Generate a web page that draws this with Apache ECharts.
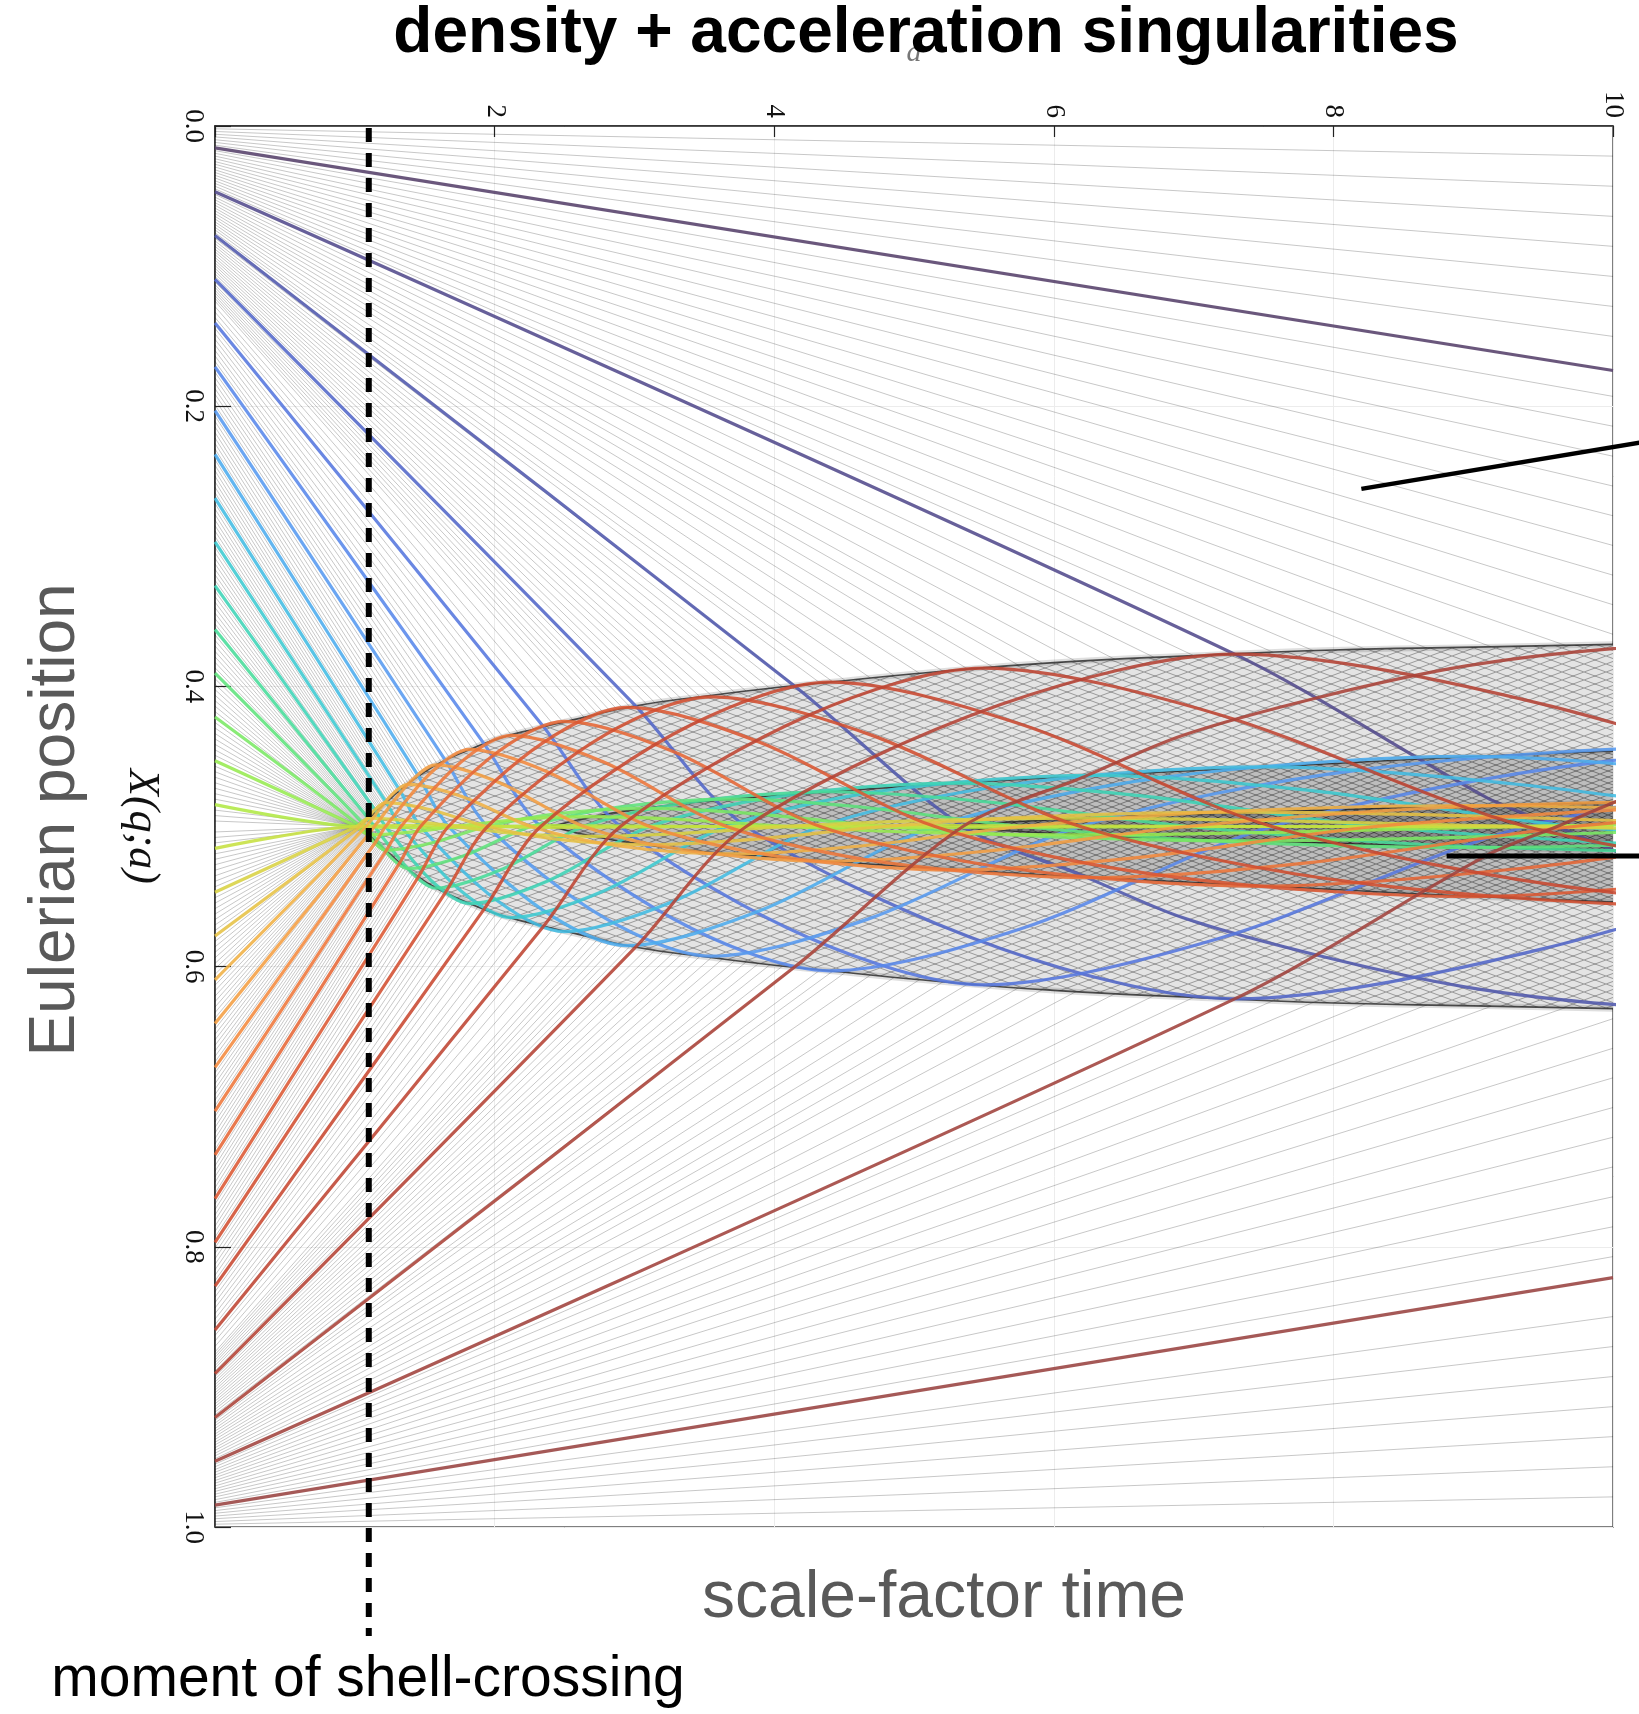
<!DOCTYPE html>
<html>
<head>
<meta charset="utf-8">
<script src="https://cdn.jsdelivr.net/npm/echarts@6.0.0/dist/echarts.min.js"></script>
<style>
  html, body { margin: 0; padding: 0; background: #fff; }
  #chart { width: 1639px; height: 1714px; }
</style>
</head>
<body>
<div id="chart"></div>
<script>
// moment of shell-crossing (scale-factor time)
const shellCrossing = 1.1;

// gray particle lines before they enter the multistream region: [X at a=0, a at end, X at end]
const grayTop = [
  [0.0020,10,0.0215],[0.0039,10,0.0430],[0.0059,10,0.0645],[0.0078,10,0.0859],[0.0098,10,0.1074],
  [0.0117,10,0.1288],[0.0137,10,0.1502],[0.0176,10,0.1930],[0.0195,10,0.2143],[0.0215,10,0.2357],
  [0.0234,10,0.2570],[0.0254,10,0.2782],[0.0273,10,0.2994],[0.0293,10,0.3206],[0.0313,10,0.3417],
  [0.0332,10,0.3628],[0.0352,9.66,0.3707],[0.0371,9.13,0.3717],[0.0391,8.67,0.3727],[0.0410,8.23,0.3735],
  [0.0430,7.86,0.3746],[0.0449,7.57,0.3757],[0.0488,7.00,0.3780],[0.0508,6.72,0.3794],[0.0527,6.44,0.3808],
  [0.0547,6.16,0.3822],[0.0566,5.92,0.3836],[0.0586,5.75,0.3850],[0.0605,5.57,0.3865],[0.0625,5.39,0.3879],
  [0.0645,5.21,0.3893],[0.0664,5.04,0.3907],[0.0684,4.86,0.3924],[0.0703,4.69,0.3941],[0.0723,4.51,0.3959],
  [0.0742,4.42,0.3968],[0.0762,4.33,0.3977],[0.0801,4.15,0.3995],[0.0820,4.06,0.4004],[0.0840,3.97,0.4014],
  [0.0859,3.89,0.4024],[0.0879,3.80,0.4034],[0.0898,3.72,0.4044],[0.0918,3.63,0.4054],[0.0938,3.55,0.4064],
  [0.0957,3.47,0.4074],[0.0977,3.41,0.4083],[0.0996,3.34,0.4092],[0.1016,3.28,0.4101],[0.1035,3.21,0.4110],
  [0.1055,3.15,0.4119],[0.1074,3.09,0.4128],[0.1113,2.97,0.4147],[0.1133,2.92,0.4158],[0.1152,2.88,0.4168],
  [0.1172,2.83,0.4179],[0.1191,2.78,0.4189],[0.1211,2.74,0.4199],[0.1230,2.69,0.4210],
  [0.1250,2.64,0.4220],[0.1289,2.56,0.4239],[0.1328,2.49,0.4255],[0.1367,2.42,0.4272],[0.1445,2.28,0.4304],
  [0.1484,2.23,0.4319],[0.1523,2.17,0.4334],[0.1563,2.12,0.4348],[0.1602,2.06,0.4363],[0.1641,2.01,0.4378],
  [0.1680,1.97,0.4394],[0.1758,1.88,0.4426],[0.1797,1.84,0.4442],[0.1836,1.80,0.4458],[0.1875,1.77,0.4473],
  [0.1914,1.74,0.4486],[0.1953,1.71,0.4500],[0.1992,1.68,0.4514],[0.2070,1.62,0.4542],[0.2109,1.59,0.4556],
  [0.2148,1.565,0.4571],[0.2188,1.54,0.4585],[0.2227,1.52,0.4600],[0.2266,1.494,0.4614],[0.2305,1.475,0.4628],
  [0.2383,1.436,0.4655],[0.2422,1.417,0.4668],[0.2461,1.398,0.4682],[0.2500,1.383,0.4694],[0.2539,1.368,0.4706],
  [0.2578,1.353,0.4718],[0.2617,1.338,0.4730],[0.2695,1.307,0.4754],[0.2734,1.294,0.4766],[0.2773,1.281,0.4777],
  [0.2813,1.269,0.4788],[0.2852,1.257,0.4799],[0.2891,1.246,0.4809],[0.2930,1.235,0.4818],[0.3008,1.214,0.4837],
  [0.3047,1.204,0.4847],[0.3086,1.194,0.4855],[0.3125,1.186,0.4863],[0.3164,1.177,0.4870],[0.3203,1.169,0.4878],
  [0.3242,1.160,0.4886],[0.3320,1.145,0.4900],[0.3359,1.137,0.4906],[0.3398,1.130,0.4913],[0.3438,1.123,0.4919],
  [0.3477,1.116,0.4926],[0.3516,1.109,0.4932],[0.3555,1.102,0.4938],[0.3633,1.092,0.4946],[0.3672,1.087,0.4950],
  [0.3711,1.083,0.4954],[0.3750,1.078,0.4957],[0.3789,1.074,0.4961],[0.3828,1.069,0.4965],[0.3867,1.064,0.4968],
  [0.3945,1.055,0.4976],[0.3984,1.051,0.4980],[0.4023,1.047,0.4982],[0.4063,1.043,0.4985],[0.4102,1.040,0.4987],
  [0.4141,1.036,0.4989],[0.4180,1.033,0.4990],[0.4258,1.027,0.4992],[0.4297,1.024,0.4993],[0.4336,1.021,0.4995],
  [0.4375,1.019,0.4995],[0.4414,1.016,0.4996],[0.4453,1.014,0.4997],[0.4492,1.012,0.4997],[0.4570,1.009,0.4998],
  [0.4609,1.008,0.4998],[0.4648,1.007,0.4999],[0.4688,1.006,0.4999],[0.4727,1.005,0.4999],[0.4766,1.004,0.5],
  [0.4805,1.003,0.5],[0.4883,1.002,0.5],[0.4922,1.001,0.5],[0.4961,1.0,0.5]
];

const grayBottom = [
  [0.9980,10,0.9785],[0.9961,10,0.9570],[0.9941,10,0.9355],[0.9922,10,0.9141],[0.9902,10,0.8926],
  [0.9883,10,0.8712],[0.9863,10,0.8498],[0.9824,10,0.8070],[0.9805,10,0.7857],[0.9785,10,0.7643],
  [0.9766,10,0.7430],[0.9746,10,0.7218],[0.9727,10,0.7006],[0.9707,10,0.6794],[0.9687,10,0.6583],
  [0.9668,10,0.6372],[0.9648,9.66,0.6293],[0.9629,9.13,0.6283],[0.9609,8.67,0.6273],[0.9590,8.23,0.6265],
  [0.9570,7.86,0.6254],[0.9551,7.57,0.6243],[0.9512,7.00,0.6220],[0.9492,6.72,0.6206],[0.9473,6.44,0.6192],
  [0.9453,6.16,0.6178],[0.9434,5.92,0.6164],[0.9414,5.75,0.6150],[0.9395,5.57,0.6135],[0.9375,5.39,0.6121],
  [0.9355,5.21,0.6107],[0.9336,5.04,0.6093],[0.9316,4.86,0.6076],[0.9297,4.69,0.6059],[0.9277,4.51,0.6041],
  [0.9258,4.42,0.6032],[0.9238,4.33,0.6023],[0.9199,4.15,0.6005],[0.9180,4.06,0.5996],[0.9160,3.97,0.5986],
  [0.9141,3.89,0.5976],[0.9121,3.80,0.5966],[0.9102,3.72,0.5956],[0.9082,3.63,0.5946],[0.9062,3.55,0.5936],
  [0.9043,3.47,0.5926],[0.9023,3.41,0.5917],[0.9004,3.34,0.5908],[0.8984,3.28,0.5899],[0.8965,3.21,0.5890],
  [0.8945,3.15,0.5881],[0.8926,3.09,0.5872],[0.8887,2.97,0.5853],[0.8867,2.92,0.5842],[0.8848,2.88,0.5832],
  [0.8828,2.83,0.5821],[0.8809,2.78,0.5811],[0.8789,2.74,0.5801],[0.8770,2.69,0.5790],
  [0.8750,2.64,0.5780],[0.8711,2.56,0.5761],[0.8672,2.49,0.5745],[0.8633,2.42,0.5728],[0.8555,2.28,0.5696],
  [0.8516,2.23,0.5681],[0.8477,2.17,0.5666],[0.8437,2.12,0.5652],[0.8398,2.06,0.5637],[0.8359,2.01,0.5622],
  [0.8320,1.97,0.5606],[0.8242,1.88,0.5574],[0.8203,1.84,0.5558],[0.8164,1.80,0.5542],[0.8125,1.77,0.5527],
  [0.8086,1.74,0.5514],[0.8047,1.71,0.5500],[0.8008,1.68,0.5486],[0.7930,1.62,0.5458],[0.7891,1.59,0.5444],
  [0.7852,1.565,0.5429],[0.7812,1.54,0.5415],[0.7773,1.52,0.5400],[0.7734,1.494,0.5386],[0.7695,1.475,0.5372],
  [0.7617,1.436,0.5345],[0.7578,1.417,0.5332],[0.7539,1.398,0.5318],[0.7500,1.383,0.5306],[0.7461,1.368,0.5294],
  [0.7422,1.353,0.5282],[0.7383,1.338,0.5270],[0.7305,1.307,0.5246],[0.7266,1.294,0.5234],[0.7227,1.281,0.5223],
  [0.7187,1.269,0.5212],[0.7148,1.257,0.5201],[0.7109,1.246,0.5191],[0.7070,1.235,0.5182],[0.6992,1.214,0.5163],
  [0.6953,1.204,0.5153],[0.6914,1.194,0.5145],[0.6875,1.186,0.5137],[0.6836,1.177,0.5130],[0.6797,1.169,0.5122],
  [0.6758,1.160,0.5114],[0.6680,1.145,0.5100],[0.6641,1.137,0.5094],[0.6602,1.130,0.5087],[0.6562,1.123,0.5081],
  [0.6523,1.116,0.5074],[0.6484,1.109,0.5068],[0.6445,1.102,0.5062],[0.6367,1.092,0.5054],[0.6328,1.087,0.5050],
  [0.6289,1.083,0.5046],[0.6250,1.078,0.5043],[0.6211,1.074,0.5039],[0.6172,1.069,0.5035],[0.6133,1.064,0.5032],
  [0.6055,1.055,0.5024],[0.6016,1.051,0.5020],[0.5977,1.047,0.5018],[0.5937,1.043,0.5015],[0.5898,1.040,0.5013],
  [0.5859,1.036,0.5011],[0.5820,1.033,0.5010],[0.5742,1.027,0.5008],[0.5703,1.024,0.5007],[0.5664,1.021,0.5005],
  [0.5625,1.019,0.5005],[0.5586,1.016,0.5004],[0.5547,1.014,0.5003],[0.5508,1.012,0.5003],[0.5430,1.009,0.5002],
  [0.5391,1.008,0.5002],[0.5352,1.007,0.5001],[0.5312,1.006,0.5001],[0.5273,1.005,0.5001],[0.5234,1.004,0.5],
  [0.5195,1.003,0.5],[0.5117,1.002,0.5],[0.5078,1.001,0.5],[0.5039,1.0,0.5]
];

// caustics (edges of the 3-, 5- and 7-stream regions): [a, X]
const outerTop = [[1.0,0.5],[1.05,0.498],[1.1,0.494],[1.15,0.4895],[1.2,0.485],[1.25,0.4805],[1.3,0.476],[1.4,0.468],
  [1.5,0.461],[1.6,0.455],[1.8,0.446],[2.0,0.438],[2.3,0.43],[2.6,0.423],[3.0,0.414],[3.5,0.407],[4.0,0.401],
  [4.5,0.396],[5.0,0.391],[6.0,0.383],[7.0,0.378],[8.0,0.374],[9.0,0.372],[10,0.37]];
const outerBottom = [[1.0,0.5],[1.05,0.502],[1.1,0.506],[1.15,0.5105],[1.2,0.515],[1.25,0.5195],[1.3,0.524],[1.4,0.532],
  [1.5,0.539],[1.6,0.545],[1.8,0.554],[2.0,0.562],[2.3,0.57],[2.6,0.577],[3.0,0.586],[3.5,0.593],[4.0,0.599],
  [4.5,0.604],[5.0,0.609],[6.0,0.617],[7.0,0.622],[8.0,0.626],[9.0,0.628],[10,0.63]];
const innerTop = [[2.4,0.5],[2.7,0.493],[3.0,0.488],[3.5,0.482],[4.0,0.478],[5.0,0.471],[6.0,0.465],[7.0,0.46],
  [8.0,0.455],[9.0,0.45],[10,0.446]];
const innerBottom = [[2.4,0.5],[2.7,0.507],[3.0,0.512],[3.5,0.518],[4.0,0.522],[5.0,0.529],[6.0,0.535],[7.0,0.54],
  [8.0,0.545],[9.0,0.55],[10,0.554]];
const coreTop = [[5.2,0.5],[6.0,0.495],[7.0,0.491],[8.0,0.488],[9.0,0.485],[10,0.483]];
const coreBottom = [[5.2,0.5],[6.0,0.505],[7.0,0.509],[8.0,0.512],[9.0,0.515],[10,0.517]];

// coloured particles starting in the upper half (top to centre): [a, X]
const topPaths = [
  [[0,0.0156],[10,0.1745]],
  [[0,0.0469],[7.29,0.3768],[9.09,0.479],[9.6,0.5],[10,0.517],[10.6,0.54]],
  [[0,0.0781],[4.15,0.400],[5.35,0.5],[6.18,0.534],[6.92,0.565],[7.93,0.593],[8.95,0.6146],[10,0.627],[11,0.631]],
  [[0,0.1094],[3.01,0.414],[3.8,0.5],[5.62,0.587],[7.3,0.623],[9.51,0.587],[12.4,0.5]],
  [[0,0.1406],[2.35,0.4288],[2.9,0.5],[4.26,0.58],[5.5,0.613],[7.18,0.58],[9.38,0.5],[12.25,0.45]],
  [[0,0.1719],[1.925,0.441],[2.33,0.5],[3.41,0.5728],[4.4,0.603],[5.77,0.5728],[7.56,0.5],[9.9,0.454],[13,0.435]],
  [[0,0.2031],[1.648,0.4528],[1.95,0.5],[2.79,0.5654],[3.55,0.5925],[4.69,0.5654],[6.19,0.5],[8.18,0.4597],[10.8,0.443],[13,0.46]],
  [[0,0.2344],[1.455,0.4641],[1.67,0.5],[2.35,0.56],[2.95,0.585],[3.9,0.56],[5.15,0.5],[6.81,0.4646],[9.0,0.45],[11.1,0.4646]],
  [[0,0.2656],[1.322,0.4742],[1.47,0.5],[2.02,0.553],[2.5,0.575],[3.29,0.553],[4.33,0.5],[5.7,0.47],[7.5,0.4575],[9.33,0.47],[11.6,0.5]],
  [[0,0.2969],[1.225,0.4828],[1.33,0.5],[1.76,0.546],[2.12,0.565],[2.78,0.546],[3.66,0.5],[4.8,0.4742],[6.3,0.4635],[7.83,0.4742],[9.72,0.5],[12.1,0.516]],
  [[0,0.3281],[1.152,0.4893],[1.22,0.5],[1.55,0.5389],[1.82,0.555],[2.38,0.5389],[3.11,0.5],[4.06,0.4781],[5.3,0.469],[6.63,0.4781],[8.3,0.5],[10.4,0.514]],
  [[0,0.3594],[1.097,0.4943],[1.14,0.5],[1.39,0.5311],[1.58,0.544],[2.04,0.5311],[2.64,0.5],[3.41,0.4825],[4.4,0.4752],[5.53,0.4825],[6.96,0.5],[8.75,0.5134],[11,0.519]],
  [[0,0.3906],[1.08,0.5],[1.25,0.5212],[1.38,0.53],[1.77,0.5212],[2.26,0.5],[2.89,0.4861],[3.7,0.4804],[4.62,0.4861],[5.77,0.5],[7.21,0.5106],[9.0,0.515],[11,0.5106]],
  [[0,0.4219],[1.04,0.5],[1.144,0.512],[1.22,0.517],[1.54,0.512],[1.945,0.5],[2.456,0.4908],[3.1,0.487],[3.85,0.4908],[4.79,0.5],[5.95,0.5072],[7.4,0.5102],[9.1,0.5072],[11.2,0.5]],
  [[0,0.4531],[1.012,0.5],[1.064,0.5042],[1.1,0.506],[1.38,0.5042],[1.72,0.5],[2.16,0.495],[2.7,0.493],[3.32,0.495],[4.09,0.5],[5.04,0.5042],[6.2,0.506],[7.59,0.5042],[9.3,0.5],[11.4,0.497]],
  [[0,0.4844],[1.0,0.5],[1.6,0.5008],[2.4,0.4994],[3.6,0.5],[5.2,0.5006],[7.5,0.5],[10,0.4996]]
];

// coloured particles starting in the lower half (centre to bottom): [a, X]
const bottomPaths = [
  [[0,0.5156],[1.0,0.5],[1.6,0.4992],[2.4,0.5006],[3.6,0.5],[5.2,0.4994],[7.5,0.5],[10,0.5004]],
  [[0,0.5469],[1.012,0.5],[1.064,0.4958],[1.1,0.494],[1.38,0.4958],[1.72,0.5],[2.16,0.505],[2.7,0.507],[3.32,0.505],[4.09,0.5],[5.04,0.4958],[6.2,0.494],[7.59,0.4958],[9.3,0.5],[11.4,0.503]],
  [[0,0.5781],[1.04,0.5],[1.144,0.488],[1.22,0.483],[1.54,0.488],[1.945,0.5],[2.456,0.5092],[3.1,0.513],[3.85,0.5092],[4.79,0.5],[5.95,0.4928],[7.4,0.4898],[9.1,0.4928],[11.2,0.5]],
  [[0,0.6094],[1.08,0.5],[1.25,0.4788],[1.38,0.47],[1.77,0.4788],[2.26,0.5],[2.89,0.5139],[3.7,0.5196],[4.62,0.5139],[5.77,0.5],[7.21,0.4894],[9.0,0.485],[11,0.4894]],
  [[0,0.6406],[1.097,0.5057],[1.14,0.5],[1.39,0.4689],[1.58,0.456],[2.04,0.4689],[2.64,0.5],[3.41,0.5175],[4.4,0.5248],[5.53,0.5175],[6.96,0.5],[8.75,0.4866],[11,0.481]],
  [[0,0.6719],[1.152,0.5107],[1.22,0.5],[1.55,0.4611],[1.82,0.445],[2.38,0.4611],[3.11,0.5],[4.06,0.5219],[5.3,0.531],[6.63,0.5219],[8.3,0.5],[10.4,0.486]],
  [[0,0.7031],[1.225,0.5172],[1.33,0.5],[1.76,0.454],[2.12,0.435],[2.78,0.454],[3.66,0.5],[4.8,0.5258],[6.3,0.5365],[7.83,0.5258],[9.72,0.5],[12.1,0.484]],
  [[0,0.7344],[1.322,0.5258],[1.47,0.5],[2.02,0.447],[2.5,0.425],[3.29,0.447],[4.33,0.5],[5.7,0.53],[7.5,0.5425],[9.33,0.53],[11.6,0.5]],
  [[0,0.7656],[1.455,0.5359],[1.67,0.5],[2.35,0.44],[2.95,0.415],[3.9,0.44],[5.15,0.5],[6.81,0.5354],[9.0,0.55],[11.1,0.5354]],
  [[0,0.7969],[1.648,0.5472],[1.95,0.5],[2.79,0.4346],[3.55,0.4075],[4.69,0.4346],[6.19,0.5],[8.18,0.5403],[10.8,0.557],[13,0.54]],
  [[0,0.8281],[1.925,0.559],[2.33,0.5],[3.41,0.4272],[4.4,0.397],[5.77,0.4272],[7.56,0.5],[9.9,0.546],[13,0.565]],
  [[0,0.8594],[2.35,0.5712],[2.9,0.5],[4.26,0.42],[5.5,0.387],[7.18,0.42],[9.38,0.5],[12.25,0.55]],
  [[0,0.8906],[3.01,0.586],[3.8,0.5],[5.62,0.413],[7.3,0.377],[9.51,0.413],[12.4,0.5]],
  [[0,0.9219],[4.15,0.600],[5.35,0.5],[6.18,0.466],[6.92,0.435],[7.93,0.407],[8.95,0.3854],[10,0.373],[11,0.369]],
  [[0,0.9531],[7.29,0.6232],[9.09,0.521],[9.6,0.5],[10,0.483],[10.6,0.46]],
  [[0,0.9844],[10,0.822]]
];

const palette = ['#55406a','#524a8c','#5058ac','#5266c8','#5576de','#5888ea','#569af0','#4cacee',
  '#42bce2','#3ccad0','#3ed4b6','#48dc9a','#5ee27c','#7ae864','#96ea50','#b0e844',
  '#c6e040','#d8d242','#e6c244','#f0b044','#f49e42','#f48a3e','#ee763a','#e66636',
  '#dc5832','#d24e30','#c84830','#be4432','#b44234','#aa4238','#a0423c','#984240'];

// pointer lines at the right edge (cut off in the original figure)
const pointerUpper = [[8.2, 0.259], [10.19, 0.226]];
const pointerLower = [[8.81, 0.521], [10.19, 0.521]];

const chart = echarts.init(document.getElementById('chart'), null, { width: 1639, height: 1714 });

// crosshatch texture for the multistream regions
function hatch(w, h, bg, stroke, alpha) {
  const c = document.createElement('canvas');
  c.width = w; c.height = h;
  const g = c.getContext('2d');
  g.fillStyle = bg;
  g.fillRect(0, 0, w, h);
  g.globalAlpha = alpha;
  g.strokeStyle = stroke;
  g.lineWidth = 0.8;
  g.beginPath();
  g.moveTo(0, 0); g.lineTo(w, h);
  g.moveTo(0, h); g.lineTo(w, 0);
  g.stroke();
  return { image: c, repeat: 'repeat' };
}

function regionSeries(upper, lower, fill, z) {
  return {
    type: 'custom',
    coordinateSystem: 'cartesian2d',
    silent: true,
    clip: true,
    z: z,
    data: [[0, 0]],
    renderItem: function (params, api) {
      const pts = upper.concat(lower.slice().reverse()).map(function (p) { return api.coord(p); });
      return { type: 'polygon', shape: { points: pts }, style: { fill: fill } };
    }
  };
}

function causticSeries(data, z, width, opacity) {
  return {
    type: 'line', data: data, smooth: true, showSymbol: false, silent: true, z: z,
    lineStyle: { color: '#1a1a1a', width: width, opacity: opacity }
  };
}

const series = [];

series.push({
  type: 'lines',
  coordinateSystem: 'cartesian2d',
  silent: true,
  z: 1,
  data: grayTop.concat(grayBottom).map(function (g) { return { coords: [[0, g[0]], [g[1], g[2]]] }; }),
  lineStyle: { color: '#000', width: 1, opacity: 0.22 }
});

series.push(regionSeries(outerTop, outerBottom, hatch(22, 8, '#e4e4e4', '#2a2a2a', 0.5), 2));
series.push(regionSeries(innerTop, innerBottom, hatch(16, 6, '#bdbdbd', '#1a1a1a', 0.55), 3));
series.push(regionSeries(coreTop, coreBottom, hatch(12, 5, '#8a8a8a', '#111', 0.6), 4));
[outerTop, outerBottom, innerTop, innerBottom, coreTop, coreBottom].forEach(function (c) {
  series.push(causticSeries(c, 5, 6, 0.14));
  series.push(causticSeries(c, 5, 1.6, 0.75));
});

topPaths.concat(bottomPaths).forEach(function (path, k) {
  series.push({
    type: 'line', data: path, smooth: 0.3, showSymbol: false, silent: true, z: 10,
    lineStyle: { color: palette[k], width: 3.2, opacity: 0.88 }
  });
});

chart.setOption({
  animation: false,
  backgroundColor: '#fff',
  grid: { left: 215, top: 126, width: 1398, height: 1401, show: true, borderColor: '#555', borderWidth: 1.5 },
  xAxis: {
    type: 'value', position: 'top', min: 0, max: 10, interval: 2,
    axisLine: { show: true, lineStyle: { color: '#222', width: 1.5 } },
    axisTick: { show: true, inside: true, length: 11, lineStyle: { color: '#222', width: 1.2 } },
    splitLine: { show: true, lineStyle: { color: '#ececec', width: 1 } },
    axisLabel: {
      rotate: -90, margin: 8, color: '#111', fontFamily: 'Liberation Serif', fontSize: 27,
      formatter: function (v) { return v === 0 ? '' : String(v); }
    },
    name: 'a', nameLocation: 'middle', nameGap: 58,
    nameTextStyle: { fontFamily: 'Liberation Serif', fontStyle: 'italic', fontSize: 30, color: '#777' }
  },
  yAxis: {
    type: 'value', inverse: true, min: 0, max: 1, interval: 0.2,
    axisLine: { show: true, lineStyle: { color: '#222', width: 1.5 } },
    axisTick: { show: true, inside: true, length: 16, lineStyle: { color: '#222', width: 1.2 } },
    splitLine: { show: true, lineStyle: { color: '#ececec', width: 1 } },
    axisLabel: {
      rotate: -90, margin: 8, color: '#111', fontFamily: 'Liberation Serif', fontSize: 27,
      formatter: function (v) { return v.toFixed(1); }
    },
    name: 'X(q;a)', nameLocation: 'middle', nameRotate: -90, nameGap: 51,
    nameTextStyle: { fontFamily: 'Liberation Serif', fontStyle: 'italic', fontSize: 44, color: '#111' }
  },
  series: series
});

// annotations placed through the chart's own scales
const px = function (p) { return chart.convertToPixel({ xAxisIndex: 0, yAxisIndex: 0 }, p); };
const dashX = chart.convertToPixel({ xAxisIndex: 0 }, shellCrossing);
const plotTop = chart.convertToPixel({ yAxisIndex: 0 }, 0);
const u0 = px(pointerUpper[0]), u1 = px(pointerUpper[1]);
const l0 = px(pointerLower[0]), l1 = px(pointerLower[1]);

chart.setOption({
  graphic: [
    { type: 'line', z: 100, shape: { x1: dashX, y1: plotTop + 2, x2: dashX, y2: 1636 },
      style: { stroke: '#000', lineWidth: 6, lineDash: [14, 11] } },
    { type: 'line', z: 100, shape: { x1: u0[0], y1: u0[1], x2: u1[0], y2: u1[1] },
      style: { stroke: '#000', lineWidth: 4.5 } },
    { type: 'line', z: 100, shape: { x1: l0[0], y1: l0[1], x2: l1[0], y2: l1[1] },
      style: { stroke: '#000', lineWidth: 5 } },
    { type: 'text', z: 100, x: 926, y: 34,
      style: { text: 'density + acceleration singularities', fontFamily: 'Liberation Sans', fontWeight: 'bold',
        fontSize: 64, fill: '#000', align: 'center', verticalAlign: 'middle' } },
    { type: 'text', z: 100, x: 56, y: 820, rotation: Math.PI / 2,
      style: { text: 'Eulerian position', fontFamily: 'Liberation Sans', fontSize: 64, fill: '#595959',
        align: 'center', verticalAlign: 'middle' } },
    { type: 'text', z: 100, x: 944, y: 1599,
      style: { text: 'scale-factor time', fontFamily: 'Liberation Sans', fontSize: 66, fill: '#595959',
        align: 'center', verticalAlign: 'middle' } },
    { type: 'text', z: 100, x: 368, y: 1680,
      style: { text: 'moment of shell-crossing', fontFamily: 'Liberation Sans', fontSize: 57, fill: '#000',
        align: 'center', verticalAlign: 'middle' } }
  ]
});
</script>
</body>
</html>
